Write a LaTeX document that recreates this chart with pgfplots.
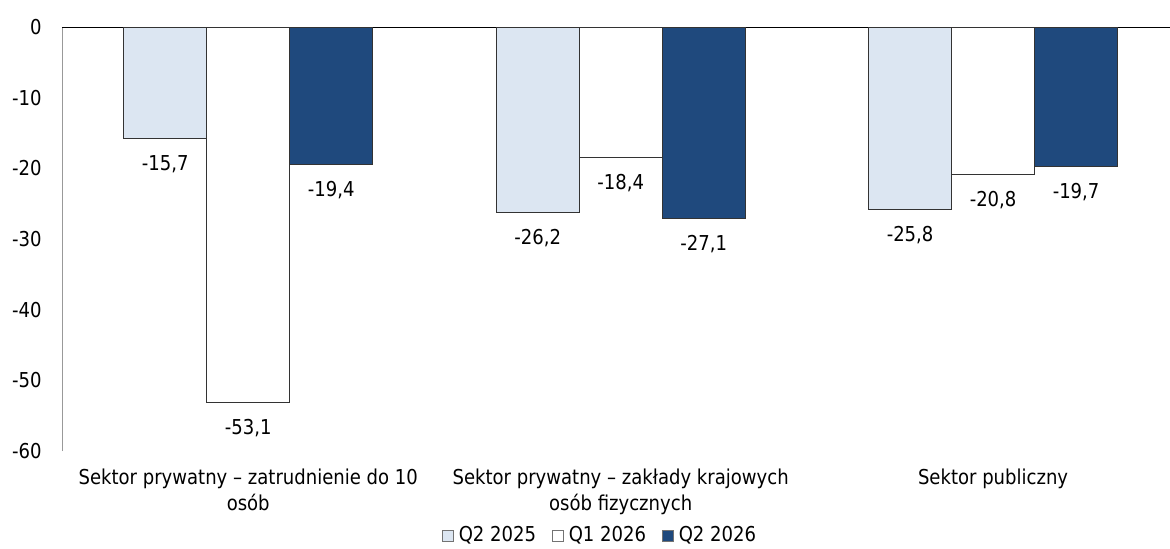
\documentclass[border=0pt]{standalone}
\usepackage{pgfplots}
\pgfplotsset{compat=1.18}
\usepackage{fontspec}
\setmainfont{DejaVu Sans}[FakeStretch=0.88]
\definecolor{lightblue}{HTML}{DCE6F2}
\definecolor{darkblue}{HTML}{1F497D}
\begin{document}
\fontsize{12.3}{15}\selectfont
\begin{tikzpicture}[x=1pt,y=1pt]
\begin{axis}[
    name=ax,
    scale only axis,
    width=664.8pt, height=254.4pt,
    xmin=-0.5, xmax=2.475,
    ymin=-60, ymax=0,
    ybar=0pt, bar width=49.8pt,
    axis lines=left,
    axis line style={-},
    x axis line style={draw=none},
    y axis line style={draw=gray!80},
    ytick={-60,-50,-40,-30,-20,-10},
    extra y ticks={0},
    extra y tick labels={0},
    extra y tick style={grid=major, major grid style={black, thin}},
    major tick length=0pt,
    yticklabel style={xshift=-8pt, font=\fontsize{12.3}{15}\selectfont},
    xtick=data,
    xticklabels={{Sektor prywatny -- zatrudnienie do 10\\osób},
                 {Sektor prywatny -- zakłady krajowych\\osób fizycznych},
                 {Sektor publiczny}},
    xticklabel style={align=center, yshift=-6.5pt, font=\fontsize{12.3}{15.6}\selectfont},
    /pgf/number format/assume math mode=true,
    nodes near coords,
    nodes near coords style={font=\fontsize{12.3}{15}\selectfont, yshift=-6pt,
        /pgf/number format/.cd, fixed, precision=1, fixed zerofill, use comma},
    legend style={draw=none, at={(axis description cs:0.487,-0.2)}, anchor=center,
        legend columns=3, font=\fontsize{12.3}{15}\selectfont,
        nodes={inner xsep=2.8pt},
        /tikz/every even column/.append style={column sep=7pt}},
    legend image code/.code={\draw[#1, draw=gray!90!black] (0pt,-3.3pt) rectangle (6.6pt,3.3pt);},
]
\addplot[fill=lightblue, draw=black!80] coordinates {(0,-15.7) (1,-26.2) (2,-25.8)};
\addplot[fill=white, draw=black!80] coordinates {(0,-53.1) (1,-18.4) (2,-20.8)};
\addplot[fill=darkblue, draw=black!80] coordinates {(0,-19.4) (1,-27.1) (2,-19.7)};
\legend{Q2 2025, Q1 2026, Q2 2026}
\end{axis}
\pgfresetboundingbox
\path (ax.south west) ++(-37.2pt,-58.8pt) coordinate (bl);
\path (ax.north east) ++(0pt,16.2pt) coordinate (tr);
\useasboundingbox (bl) rectangle (tr);
\end{tikzpicture}
\end{document}
